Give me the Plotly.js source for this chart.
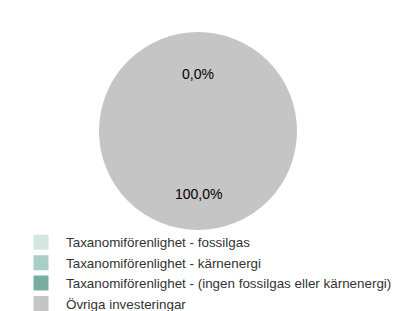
<!DOCTYPE html>
<html><head><meta charset="utf-8">
<script src="https://cdn.plot.ly/plotly-3.0.1.min.js"></script>
<style>html,body{margin:0;padding:0;background:#fff;overflow:hidden;width:397px;height:311px}</style>
</head><body>
<div id="chart" style="width:420px;height:330px"></div>
<script>
const categories = [
  "Taxanomiförenlighet - fossilgas",
  "Taxanomiförenlighet - kärnenergi",
  "Taxanomiförenlighet - (ingen fossilgas eller kärnenergi)",
  "Övriga investeringar"
];
const values = [0, 0, 0, 100];
const colors = ["#d4e6e1", "#a8cfc6", "#78ada0", "#c5c5c5"];

const total = values.reduce((a, b) => a + b, 0);
const fmt = v => (v / total * 100).toFixed(1).replace(".", ",") + "%";
const zeroShare = values.slice(0, 3).reduce((a, b) => a + b, 0);

const W = 420, H = 330;

const trace = {
  type: "pie",
  labels: categories,
  values: values,
  marker: {colors: colors, line: {color: colors, width: 3}},
  sort: false,
  direction: "clockwise",
  textinfo: "none",
  hoverinfo: "none",
  domain: {x: [100.5/W, 295.5/W], y: [1 - 228.5/H, 1 - 33.5/H]}
};

const layout = {
  width: W, height: H,
  margin: {l: 0, r: 0, t: 0, b: 0},
  paper_bgcolor: "#fff",
  font: {family: "Liberation Sans, Arial, sans-serif", color: "#333"},
  showlegend: true,
  legend: {
    x: 16/W, xanchor: "left", y: 1 - 319/H, yanchor: "bottom",
    font: {size: 13.4, color: "#333"},
    itemwidth: 40,
    bgcolor: "rgba(0,0,0,0)"
  },
  annotations: [
    {text: fmt(zeroShare), x: 198/W, y: 1 - 74/H, xref: "paper", yref: "paper",
     xanchor: "center", yanchor: "middle", showarrow: false,
     font: {size: 14, color: "#000"}},
    {text: fmt(values[3]), x: 198/W, y: 1 - 194/H, xref: "paper", yref: "paper",
     xanchor: "center", yanchor: "middle", showarrow: false,
     font: {size: 14, color: "#000"}}
  ]
};

Plotly.newPlot("chart", [trace], layout, {displayModeBar: false, staticPlot: true});
</script>
</body></html>
